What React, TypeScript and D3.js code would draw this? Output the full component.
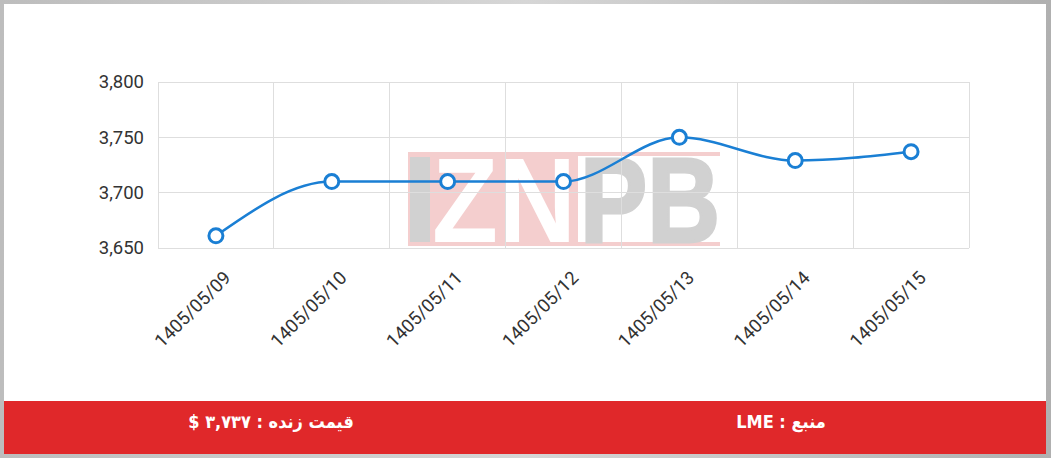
import { useEffect, useRef } from 'react';
import * as d3 from 'd3';

// dates on the x axis
const dates = [
  '1405/05/09',
  '1405/05/10',
  '1405/05/11',
  '1405/05/12',
  '1405/05/13',
  '1405/05/14',
  '1405/05/15',
];
// price series
const prices = [3661, 3710, 3710, 3710, 3750, 3729, 3737];
// y axis ticks
const yTicks = [3650, 3700, 3750, 3800];

const liveLabel = 'قیمت زنده : ۳,۷۳۷ $';
const sourceLabel = 'منبع : LME';

export default function App() {
  const svgRef = useRef<SVGSVGElement>(null);

  useEffect(() => {
    if (!svgRef.current) return;
    const root = d3.select(svgRef.current);
    root.selectAll('*').remove();

    const width = 1051;
    const height = 458;
    const plot = { left: 158, right: 969, top: 82, bottom: 248 };

    root.attr('width', width).attr('height', height);

    // frame
    const defs = root.append('defs');
    const grad = defs.append('linearGradient').attr('id', 'frame').attr('x1', 0).attr('x2', 1);
    grad.append('stop').attr('offset', '0%').attr('stop-color', '#bdbdbd');
    grad.append('stop').attr('offset', '50%').attr('stop-color', '#d6d6d6');
    grad.append('stop').attr('offset', '100%').attr('stop-color', '#b0b0b0');
    root.append('rect').attr('width', width).attr('height', height).attr('fill', 'url(#frame)');
    root.append('rect').attr('x', 4).attr('y', 4).attr('width', 1042).attr('height', 450).attr('fill', '#fff');

    const x = d3.scaleBand<string>().domain(dates).range([plot.left, plot.right]);
    const y = d3.scaleLinear().domain([3650, 3800]).range([plot.bottom, plot.top]);

    // watermark
    const wm = root.append('g').attr('opacity', 0.85);
    wm.append('rect').attr('x', 408).attr('y', 152).attr('width', 170).attr('height', 94).attr('fill', '#f3c6c6');
    wm.append('rect').attr('x', 408).attr('y', 152).attr('width', 312).attr('height', 4).attr('fill', '#f3c6c6');
    wm.append('rect').attr('x', 408).attr('y', 242).attr('width', 312).attr('height', 4).attr('fill', '#f3c6c6');
    wm.append('rect').attr('x', 410).attr('y', 157).attr('width', 20).attr('height', 85).attr('fill', '#c9c9c9');
    wm.append('text')
      .attr('x', 432).attr('y', 242)
      .attr('font-family', 'Liberation Sans, Arial, sans-serif')
      .attr('font-weight', 'bold')
      .attr('font-size', 120)
      .attr('textLength', 144)
      .attr('lengthAdjust', 'spacingAndGlyphs')
      .attr('fill', '#fff')
      .text('ZN');
    wm.append('text')
      .attr('x', 580).attr('y', 242)
      .attr('font-family', 'Liberation Sans, Arial, sans-serif')
      .attr('font-weight', 'bold')
      .attr('font-size', 120)
      .attr('textLength', 140)
      .attr('lengthAdjust', 'spacingAndGlyphs')
      .attr('fill', '#c9c9c9')
      .attr('stroke', '#c9c9c9')
      .attr('stroke-width', 3)
      .text('PB');

    // grid
    const grid = root.append('g').attr('stroke', '#dedede').attr('stroke-width', 1).attr('shape-rendering', 'crispEdges');
    yTicks.forEach(t => {
      grid.append('line').attr('x1', plot.left).attr('x2', plot.right).attr('y1', y(t)).attr('y2', y(t));
    });
    const bounds = dates.map(d => x(d)!).concat([plot.right]);
    bounds.forEach(b => {
      grid.append('line').attr('x1', b).attr('x2', b).attr('y1', plot.top).attr('y2', plot.bottom);
    });

    // y labels
    root.append('g')
      .selectAll('text')
      .data(yTicks)
      .join('text')
      .attr('x', plot.left - 14)
      .attr('y', d => y(d))
      .attr('dy', '0.35em')
      .attr('text-anchor', 'end')
      .attr('font-family', 'Roboto, sans-serif')
      .attr('font-size', 18.5)
      .attr('fill', '#333')
      .text(d => d3.format(',')(d));

    // x labels
    root.append('g')
      .selectAll('text')
      .data(dates)
      .join('text')
      .attr('transform', d => `translate(${x(d)! + x.bandwidth() / 2 + 16},${plot.bottom + 31}) rotate(-45)`)
      .attr('text-anchor', 'end')
      .attr('font-family', 'Roboto, sans-serif')
      .attr('font-size', 18.5)
      .attr('fill', '#333')
      .text(d => d);

    // line
    const cx = (i: number) => x(dates[i])! + x.bandwidth() / 2;
    const line = d3.line<number>()
      .x((_, i) => cx(i))
      .y(d => y(d))
      .curve(d3.curveMonotoneX);
    root.append('path')
      .attr('d', line(prices))
      .attr('fill', 'none')
      .attr('stroke', '#1a7fd4')
      .attr('stroke-width', 2.5);

    root.append('g')
      .selectAll('circle')
      .data(prices)
      .join('circle')
      .attr('cx', (_, i) => cx(i))
      .attr('cy', d => y(d))
      .attr('r', 7)
      .attr('fill', '#fff')
      .attr('stroke', '#1a7fd4')
      .attr('stroke-width', 3);

    // footer bar
    root.append('rect').attr('x', 4).attr('y', 401).attr('width', 1042).attr('height', 53).attr('fill', '#e0282a');
    const footer = root.append('g')
      .attr('font-family', 'DejaVu Sans Condensed, DejaVu Sans, sans-serif')
      .attr('font-weight', 'bold')
      .attr('font-size', 18)
      .attr('fill', '#fff')
      .attr('text-anchor', 'middle');
    footer.append('text').attr('x', 271).attr('y', 422).attr('dy', '0.35em').attr('direction', 'rtl').text(liveLabel);
    footer.append('text').attr('x', 781).attr('y', 422).attr('dy', '0.35em').attr('direction', 'rtl').text(sourceLabel);
  }, []);

  return <svg ref={svgRef} style={{ position: 'absolute', left: 0, top: 0 }} />;
}
